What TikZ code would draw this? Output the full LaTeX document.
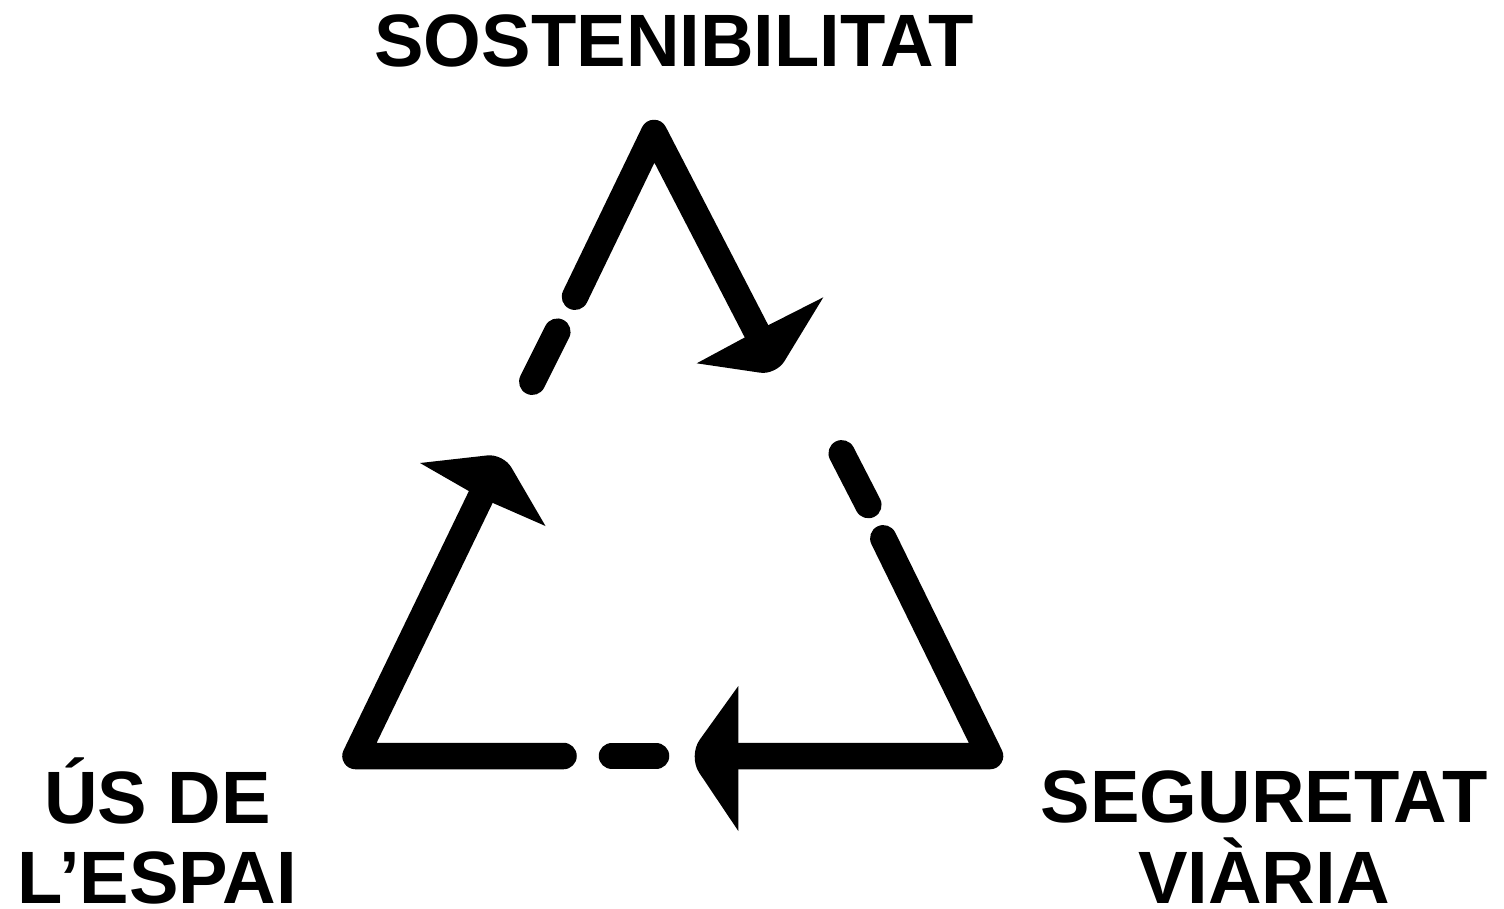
\documentclass[tikz,border=0pt]{standalone}
\usepackage{fontspec}
\setmainfont{Liberation Sans}
\tikzstyle{seg} = [draw, line width=.265cm, line cap=round, line join=round]
\tikzstyle{head} = [fill=black, draw=none]
\tikzstyle{corner} = [font=\bfseries\fontsize{21.1}{23}\selectfont, align=center]

\begin{document}
\begin{tikzpicture}[x=.01cm,y=-.01cm]
  \useasboundingbox (0,0) rectangle (1504,908);
  \node[corner] (Sost) at (674,40.5) {SOSTENIBILITAT};
  \node[corner] (Espai) at (157.5,831) {ÚS DE\\L’ESPAI};
  \node[corner] (Via) at (1264,837) {SEGURETAT\\VIÀRIA};

  \coordinate (Apex) at (654,133);
  \coordinate (Right) at (990,756);
  \coordinate (Left) at (355.5,756);
  \coordinate (TopEnd) at (761,340);
  \coordinate (BotEnd) at (730,756);
  \coordinate (LeftEnd) at (488,482);

  \path[seg] (575,296.7) -- (Apex) -- (TopEnd);
  \path[seg] (532.3,381.7) -- (557.3,331.7);
  \path[seg] (841.7,453.3) -- (868.3,505);
  \path[seg] (883.3,538.3) -- (Right) -- (BotEnd);
  \path[seg] (612,756) -- (656,756);
  \path[seg] (563.5,756) -- (Left) -- (LeftEnd);

  % arrow heads
  \path[head] (745,337.3) -- (766.7,326) -- (823.3,297.3)
    [rounded corners=.16cm] -- (776,375) [sharp corners] -- (696.7,363.3) -- cycle;
  \path[head] (738.3,745) -- (738.3,686) [rounded corners=.2cm] -- (688,756)
    [sharp corners] -- (738.3,831) -- cycle;
  \path[head] (470,491.7) -- (420,463) [rounded corners=.16cm] -- (503.3,453.6)
    [sharp corners] -- (545.5,526) -- (493,503) -- cycle;
\end{tikzpicture}
\end{document}
